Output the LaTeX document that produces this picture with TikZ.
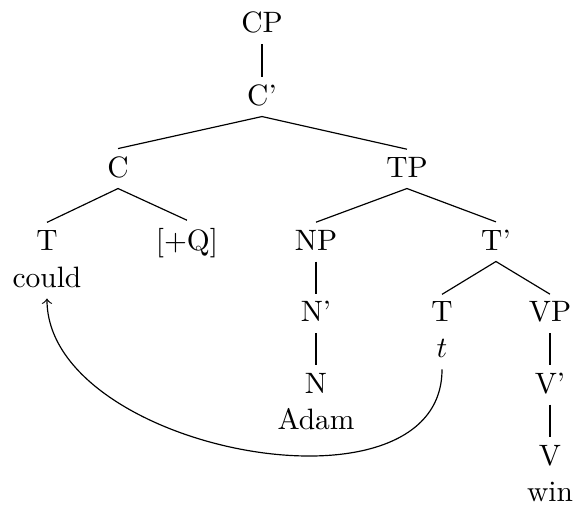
\documentclass[tikz,border=0pt]{standalone}
\usepackage{amssymb,amsmath}
\usepackage{tikz}
\usetikzlibrary{calc}

\begin{document}
\begin{tikzpicture}[cat/.style={anchor=base, inner sep=2.4pt, text depth=1.3pt}]
		\useasboundingbox (0,0) rectangle (6.878,-6.008);
		% top of the tree
		\node[cat] (cp) at (3.123,-0.393) {CP};
		\node[cat] (cbar) at (3.123,-1.252) {C'};
		\node[cat] (c) at (1.407,-2.110) {C};
		\node[cat] (tp) at (4.851,-2.110) {TP};
		% complementiser
		\node[cat] (tc) at (0.560,-2.980) {T};
		\node[cat] (could) at (0.560,-3.421) {could};
		\node[cat] (q) at (2.229,-2.980) {[+Q]};
		% subject
		\node[cat] (np) at (3.767,-2.980) {NP};
		\node[cat] (nbar) at (3.767,-3.838) {N'};
		\node[cat] (n) at (3.767,-4.685) {N};
		\node[cat] (adam) at (3.767,-5.114) {Adam};
		% T' and VP
		\node[cat] (tbar) at (5.912,-2.980) {T'};
		\node[cat] (tt) at (5.269,-3.838) {T};
		\node[cat] (trace) at (5.269,-4.267) {$t$};
		\node[cat] (vp) at (6.556,-3.838) {VP};
		\node[cat] (vbar) at (6.556,-4.685) {V'};
		\node[cat] (v) at (6.556,-5.543) {V};
		\node[cat] (win) at (6.556,-5.972) {win};
		% branches
		\draw (cp.south) -- (cbar.north);
		\draw (c.north) -- (cbar.south) -- (tp.north);
		\draw (tc.north) -- (c.south) -- (q.north);
		\draw (np.north) -- (tp.south) -- (tbar.north);
		\draw (np.south) -- (nbar.north);
		\draw (nbar.south) -- (n.north);
		\draw (tt.north) -- (tbar.south) -- (vp.north);
		\draw (vp.south) -- (vbar.north);
		\draw (vbar.south) -- (v.north);
		% movement of T to C
		\draw[->] (trace.south) .. controls +(0,-1.86) and +(0,-1.82) .. (could.south);
	\end{tikzpicture}
\end{document}
